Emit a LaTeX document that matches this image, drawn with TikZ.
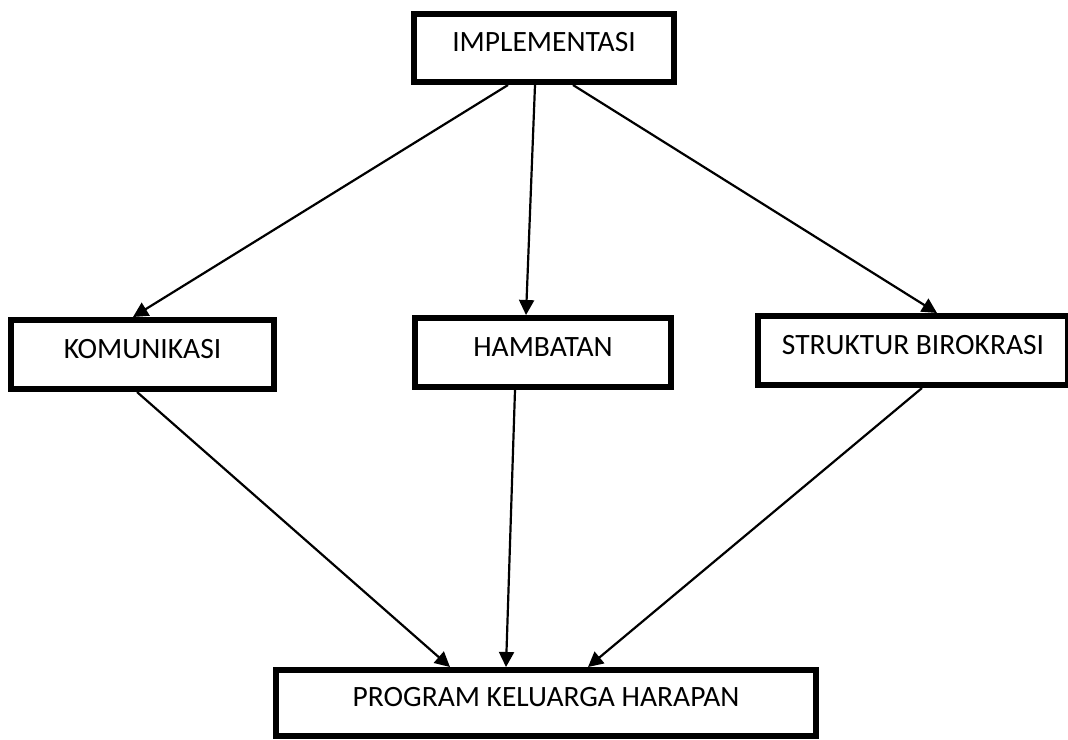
\documentclass[tikz,border=0pt]{standalone}
\usepackage{fontspec}
\setmainfont{Carlito}
\usetikzlibrary{arrows.meta}
\begin{document}
\begin{tikzpicture}[x=1pt,y=-1pt,
  box/.style={draw, line width=6pt, inner sep=0pt, fill=white,
    font=\fontsize{29.5}{35}\selectfont, text height=18.5pt, text depth=11pt},
  conn/.style={line width=2.2pt, -{Triangle[length=15pt,width=15pt]}}]
\useasboundingbox[fill=white] (0,0) rectangle (1068,739);
\node[box, minimum width=260pt, minimum height=68pt] (impl) at (544,48) {IMPLEMENTASI};
\node[box, minimum width=263pt, minimum height=69pt] (komu) at (142.5,354.5) {KOMUNIKASI};
\node[box, minimum width=256pt, minimum height=69pt] (hamb) at (543,352.5) {HAMBATAN};
\node[box, minimum width=310pt, minimum height=69pt] (stru) at (913,350.5) {STRUKTUR BIROKRASI};
\node[box, minimum width=540pt, minimum height=66pt] (prog) at (546,703) {PROGRAM KELUARGA HARAPAN};
\draw[conn] ([xshift=-36pt]impl.south) -- ([xshift=-9.5pt]komu.north);
\draw[conn] ([xshift=-9pt]impl.south) -- ([xshift=-17pt]hamb.north);
\draw[conn] ([xshift=29pt]impl.south) -- ([xshift=24pt]stru.north);
\draw[conn] ([xshift=-5.5pt]komu.south) -- ([xshift=-96pt]prog.north);
\draw[conn] ([xshift=-28pt]hamb.south) -- ([xshift=-40pt]prog.north);
\draw[conn] ([xshift=9pt]stru.south) -- ([xshift=42pt]prog.north);
\end{tikzpicture}
\end{document}
